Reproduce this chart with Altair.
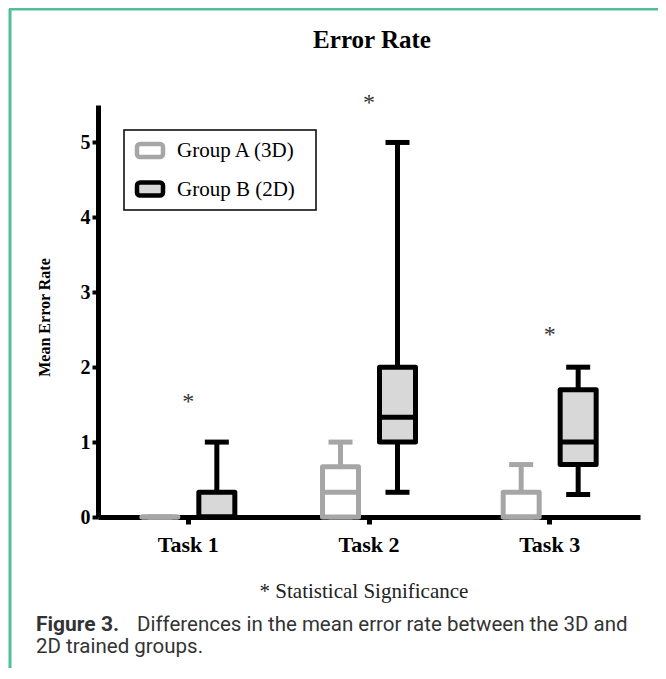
import altair as alt
import pandas as pd

tasks = ["Task 1", "Task 2", "Task 3"]
groups = ["Group A (3D)", "Group B (2D)"]

# Group A (3D): whisker low, Q1, median, Q3, whisker high
a_min = [0.0, 0.0, 0.0]
a_q1 = [0.0, 0.0, 0.0]
a_median = [0.0, 0.33, 0.0]
a_q3 = [0.0, 0.67, 0.33]
a_max = [0.0, 1.0, 0.7]

# Group B (2D)
b_min = [0.0, 0.33, 0.3]
b_q1 = [0.0, 1.0, 0.7]
b_median = [0.0, 1.33, 1.0]
b_q3 = [0.33, 2.0, 1.7]
b_max = [1.0, 5.0, 2.0]

star_y = [1.6, 5.6, 2.5]
y_ticks = [0, 1, 2, 3, 4, 5]

rows = []
for g, lo, q1, med, q3, hi in [
    (groups[0], a_min, a_q1, a_median, a_q3, a_max),
    (groups[1], b_min, b_q1, b_median, b_q3, b_max),
]:
    for i, t in enumerate(tasks):
        rows.append(dict(task=t, group=g, lo=lo[i], q1=q1[i], med=med[i], q3=q3[i], hi=hi[i]))
df = pd.DataFrame(rows)
stars = pd.DataFrame({"task": tasks, "y": star_y, "label": ["*"] * len(tasks)})

SERIF = "Liberation Serif"
SANS = "Roboto"
TEAL = "#4fbf99"
GRAY = "#a6a6a6"
FILL_B = "#d8d8d8"

x_enc = alt.X(
    "task:N",
    sort=tasks,
    scale=alt.Scale(domain=tasks, paddingInner=0, paddingOuter=0),
    axis=alt.Axis(
        title=None, labelAngle=0, labelFont=SERIF, labelFontWeight="bold",
        labelFontSize=22, labelColor="black", labelPadding=10,
        domainColor="black", domainWidth=5, tickColor="black", tickWidth=5,
        tickSize=7, grid=False,
    ),
)
xo_enc = alt.XOffset(
    "group:N", sort=groups,
    scale=alt.Scale(domain=groups, paddingInner=0, paddingOuter=0.585),
)
y_scale = alt.Scale(domain=[0, 5.5], nice=False)
y_axis = alt.Axis(
    title="Mean Error Rate", values=y_ticks, format="d",
    labelFont=SERIF, labelFontWeight="bold", labelFontSize=20, labelColor="black",
    labelPadding=2, titleFont=SERIF, titleFontWeight="bold", titleFontSize=16,
    titleColor="black", titleX=-54, titleY=212, titleAngle=270,
    titleAlign="center", titleBaseline="middle",
    domainColor="black", domainWidth=5,
    tickColor="black", tickWidth=4, tickSize=6, grid=False,
)
line_color = alt.Color("group:N", scale=alt.Scale(domain=groups, range=[GRAY, "#000000"]), legend=None)

base = alt.Chart(df)

whisker = base.mark_rule(strokeWidth=5, opacity=1).encode(
    x=x_enc, xOffset=xo_enc,
    y=alt.Y("lo:Q", scale=y_scale, axis=y_axis), y2="hi:Q",
    color=line_color,
)
cap_hi = base.mark_tick(thickness=5, size=24, opacity=1).encode(
    x=x_enc, xOffset=xo_enc, y=alt.Y("hi:Q", scale=y_scale), color=line_color,
)
cap_lo = base.mark_tick(thickness=5, size=24, opacity=1).encode(
    x=x_enc, xOffset=xo_enc, y=alt.Y("lo:Q", scale=y_scale), color=line_color,
)
box = base.mark_bar(size=36, strokeWidth=5, opacity=1, strokeJoin="round").encode(
    x=x_enc, xOffset=xo_enc,
    y=alt.Y("q1:Q", scale=y_scale), y2="q3:Q",
    fill=alt.Fill("group:N", scale=alt.Scale(domain=groups, range=["#ffffff", FILL_B]), legend=None),
    stroke=alt.Stroke("group:N", scale=alt.Scale(domain=groups, range=[GRAY, "#000000"]), legend=None),
)
median = base.mark_tick(thickness=5, size=36, opacity=1).encode(
    x=x_enc, xOffset=xo_enc, y=alt.Y("med:Q", scale=y_scale), color=line_color,
)
star = alt.Chart(stars).mark_text(font=SERIF, fontSize=24, color="#333333", dy=5).encode(
    x=x_enc, y=alt.Y("y:Q", scale=y_scale), text="label:N",
)

one = pd.DataFrame({"k": [0]})

def rect(x, x2, y, y2, **kw):
    return alt.Chart(one).mark_rect(**kw).encode(
        x=alt.value(x), x2=alt.value(x2), y=alt.value(y), y2=alt.value(y2)
    )

frame_left = alt.Chart(one).mark_rule(color=TEAL, strokeWidth=3).encode(
    x=alt.value(-88), y=alt.value(-96), y2=alt.value(566)
)
frame_top = alt.Chart(one).mark_rule(color=TEAL, strokeWidth=3).encode(
    x=alt.value(-89), x2=alt.value(560), y=alt.value(-96)
)

# legend (drawn by hand)
leg_box = rect(26, 218, 25, 105, fill="white", stroke="black", strokeWidth=1.5)
leg_a = rect(39, 65, 39, 52, fill="white", stroke=GRAY, strokeWidth=4.5, cornerRadius=3)
leg_b = rect(39, 65, 77.5, 90.5, fill=FILL_B, stroke="black", strokeWidth=4.5, cornerRadius=3)

def label(txt, x, y, **kw):
    return alt.Chart(pd.DataFrame({"t": [txt]})).mark_text(baseline="middle", **kw).encode(
        x=alt.value(x), y=alt.value(y), text="t:N"
    )

leg_la = label(groups[0], 79, 46, font=SERIF, fontSize=21, color="black", align="left")
leg_lb = label(groups[1], 79, 85, font=SERIF, fontSize=21, color="black", align="left")

title = label("Error Rate", 274, -65, font=SERIF, fontSize=25, fontWeight="bold", color="black", align="center")
signif = label("* Statistical Significance", 266, 487, font=SERIF, fontSize=21, color="#222222", align="center")
cap1a = label("Figure 3.", -62, 520, font=SANS, fontSize=21, fontWeight="bold", color="#333333", align="left")
cap1b = label("Differences in the mean error rate between the 3D and", 39, 520, font=SANS, fontSize=20.5, color="#333333", align="left")
cap2 = label("2D trained groups.", -62, 542, font=SANS, fontSize=20.5, color="#333333", align="left")

chart = alt.layer(
    frame_left, frame_top, whisker, cap_hi, cap_lo, box, median, star,
    leg_box, leg_a, leg_b, leg_la, leg_lb,
    title, signif, cap1a, cap1b, cap2,
).properties(
    width=542, height=412,
    autosize=alt.AutoSizeParams(type="none"),
    padding={"left": 90, "top": 97, "right": 18, "bottom": 151},
).configure_view(stroke=None)

chart.save("out.html", embed_options={"renderer": "svg", "actions": False})
